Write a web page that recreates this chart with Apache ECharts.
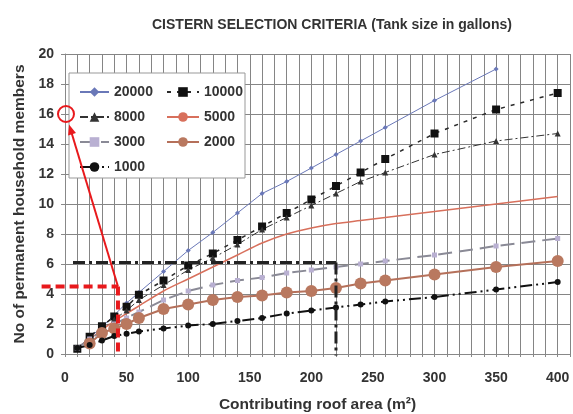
<!DOCTYPE html>
<html>
<head>
<meta charset="utf-8">
<script src="https://cdn.jsdelivr.net/npm/echarts@6/dist/echarts.min.js"></script>
<style>
  html, body { margin: 0; padding: 0; background: #fff; }
  #chart { width: 573px; height: 414px; }
</style>
</head>
<body>
<div id="chart"></div>
<script>
// roof area (m2)
var areas = [10, 20, 30, 40, 50, 60, 80, 100, 120, 140, 160, 180, 200, 220, 240, 260, 300, 350, 400];
// household members per tank size (gallons)
var tank20000 = [0.4, 1.1, 1.8, 2.6, 3.4, 4.1, 5.5, 6.9, 8.1, 9.4, 10.7, 11.5, 12.4, 13.3, 14.2, 15.1, 16.9, 19.0, null];
var tank10000 = [0.35, 1.15, 1.85, 2.5, 3.15, 3.95, 4.9, 5.9, 6.7, 7.6, 8.5, 9.4, 10.3, 11.2, 12.1, 13.0, 14.7, 16.3, 17.4];
var tank8000 = [0.4, 1.0, 1.6, 2.3, 2.9, 3.6, 4.6, 5.6, 6.4, 7.3, 8.3, 9.1, 9.9, 10.7, 11.5, 12.1, 13.3, 14.2, 14.7];
var tank5000 = [0.4, 1.0, 1.6, 2.2, 2.7, 3.2, 4.2, 5.0, 5.8, 6.6, 7.4, 8.0, 8.4, 8.7, 8.9, 9.1, 9.5, 10.0, 10.5];
var tank3000 = [0.4, 1.0, 1.5, 2.0, 2.4, 2.8, 3.6, 4.2, 4.6, 4.9, 5.1, 5.4, 5.6, 5.8, 6.0, 6.2, 6.6, 7.2, 7.7];
var tank2000 = [null, 0.7, 1.4, 1.7, 2.0, 2.4, 3.0, 3.3, 3.6, 3.8, 3.9, 4.1, 4.2, 4.4, 4.7, 4.9, 5.3, 5.8, 6.2];
var tank1000 = [0.4, 0.6, 0.9, 1.2, 1.35, 1.5, 1.7, 1.9, 2.0, 2.2, 2.4, 2.7, 2.9, 3.1, 3.3, 3.5, 3.8, 4.3, 4.8];

// reading example drawn on top (data coords)
var blackGuideH = [[6.5, 6.1], [220, 6.1]];
var blackGuideV = [[220, 6.1], [220, -0.1]];
var redGuideH = [[-19, 4.5], [43, 4.5]];
var redGuideV = [[43, 4.5], [43, -0.1]];
var arrowFrom = [43, 4.5];
var arrowTo = [3.3, 15.3];
var circleAt = [0.8, 16];

var FONT = '"Liberation Sans", Arial, sans-serif';

function pairs(ys) {
    return areas.map(function (x, i) { return [x, ys[i]]; });
}

var chart = echarts.init(document.getElementById('chart'));

function lineSeries(name, ys, color, lineType, width, symbol, size, itemColor, smooth) {
    return {
        name: name,
        type: 'line',
        data: pairs(ys),
        smooth: smooth || false,
        symbol: symbol,
        symbolSize: size,
        showSymbol: symbol !== 'none',
        lineStyle: { color: color, width: width, type: lineType },
        itemStyle: { color: itemColor || color },
        emphasis: { disabled: true }
    };
}

var legendText = { fontFamily: FONT, fontWeight: 'bold', fontSize: 14, color: '#333' };
var nameText = { fontFamily: FONT, fontWeight: 'bold', fontSize: 15.5, color: '#333' };

var option = {
    animation: false,
    backgroundColor: '#fff',
    title: {
        text: 'CISTERN SELECTION CRITERIA (Tank size in gallons)',
        left: 147,
        top: 13,
        textStyle: { fontFamily: FONT, fontWeight: 'bold', fontSize: 14, color: '#333' }
    },
    grid: { left: 65, right: 3, top: 54, bottom: 60, outerBoundsMode: 'none' },
    legend: [{
        left: 74, top: 80, orient: 'vertical', itemGap: 11,
        itemWidth: 29, itemHeight: 12,
        data: ['20000', '8000', '3000', '1000'],
        textStyle: legendText
    }, {
        left: 161, top: 80, orient: 'vertical', itemGap: 11,
        itemWidth: 32, itemHeight: 12,
        data: ['10000', '5000', '2000'],
        textStyle: legendText
    }],
    xAxis: {
        type: 'value',
        min: 0, max: 410, interval: 10,
        name: 'Contributing roof area (m²)',
        nameLocation: 'middle',
        nameGap: 43,
        nameTextStyle: nameText,
        axisLine: { lineStyle: { color: '#888' } },
        axisTick: { length: 3, lineStyle: { color: '#888' } },
        axisLabel: {
            margin: 17,
            fontFamily: FONT, fontWeight: 'bold', fontSize: 14, color: '#333',
            formatter: function (v) { return v % 50 === 0 && v <= 400 ? String(v) : ''; }
        },
        splitLine: { show: true, lineStyle: { color: '#858585', width: 1 } }
    },
    yAxis: {
        type: 'value',
        min: 0, max: 20, interval: 2,
        name: 'No of permanent household members',
        nameLocation: 'middle',
        nameGap: 32,
        nameTextStyle: nameText,
        axisLine: { show: true, lineStyle: { color: '#888' } },
        axisTick: { show: true, length: 4, lineStyle: { color: '#888' } },
        axisLabel: { margin: 11, fontFamily: FONT, fontWeight: 'bold', fontSize: 14, color: '#333' },
        splitLine: { show: true, lineStyle: { color: '#858585', width: 1 } }
    },
    series: [
        lineSeries('20000', tank20000, '#6a78b8', 'solid', 1, 'diamond', 5),
        lineSeries('10000', tank10000, '#2a2a2a', [4, 6], 1.5, 'rect', 8, '#111'),
        lineSeries('8000', tank8000, '#333', [8, 3, 2, 3], 1, 'triangle', 6),
        lineSeries('5000', tank5000, '#d8705c', 'solid', 1.5, 'none', 0, null, 0.3),
        lineSeries('3000', tank3000, '#8a8a96', [14, 7], 2, 'rect', 5, '#b9b0d2'),
        lineSeries('2000', tank2000, '#b5705a', 'solid', 2, 'circle', 12, '#b9785f'),
        lineSeries('1000', tank1000, '#111', [12, 4, 2, 4, 2, 4], 2, 'circle', 6, '#111')
    ]
};
chart.setOption(option);

function px(p) { return chart.convertToPixel({ gridIndex: 0 }, p); }

function seg(a, b, color, width, dash) {
    var p = px(a), q = px(b);
    return {
        type: 'line', z: 20, silent: true,
        shape: { x1: p[0], y1: p[1], x2: q[0], y2: q[1] },
        style: { stroke: color, lineWidth: width, lineDash: dash }
    };
}

var a = px(arrowFrom), b = px(arrowTo);
var ang = Math.atan2(b[1] - a[1], b[0] - a[0]);
var head = 11, spread = 0.38;
var c = px(circleAt);

chart.setOption({
    graphic: [
        // legend box
        {
            type: 'rect', z: 3, silent: true,
            shape: { x: 69, y: 73, width: 176, height: 105 },
            style: { fill: '#fff', stroke: '#999', lineWidth: 1 }
        },
        seg(blackGuideH[0], blackGuideH[1], '#222', 3, [12, 4, 3, 4]),
        seg(blackGuideV[0], blackGuideV[1], '#222', 3, [12, 4, 3, 4]),
        seg(redGuideH[0], redGuideH[1], '#e8191c', 4, [9, 5]),
        seg(redGuideV[0], redGuideV[1], '#e8191c', 4, [9, 5]),
        {
            type: 'line', z: 20, silent: true,
            shape: { x1: a[0], y1: a[1], x2: b[0] - Math.cos(ang) * 6, y2: b[1] - Math.sin(ang) * 6 },
            style: { stroke: '#e8191c', lineWidth: 2 }
        },
        {
            type: 'polygon', z: 20, silent: true,
            shape: {
                points: [
                    [b[0], b[1]],
                    [b[0] - head * Math.cos(ang - spread), b[1] - head * Math.sin(ang - spread)],
                    [b[0] - head * Math.cos(ang + spread), b[1] - head * Math.sin(ang + spread)]
                ]
            },
            style: { fill: '#e8191c' }
        },
        {
            type: 'circle', z: 20, silent: true,
            shape: { cx: c[0], cy: c[1], r: 8 },
            style: { fill: 'none', stroke: '#e8191c', lineWidth: 2 }
        }
    ]
});
</script>
</body>
</html>
